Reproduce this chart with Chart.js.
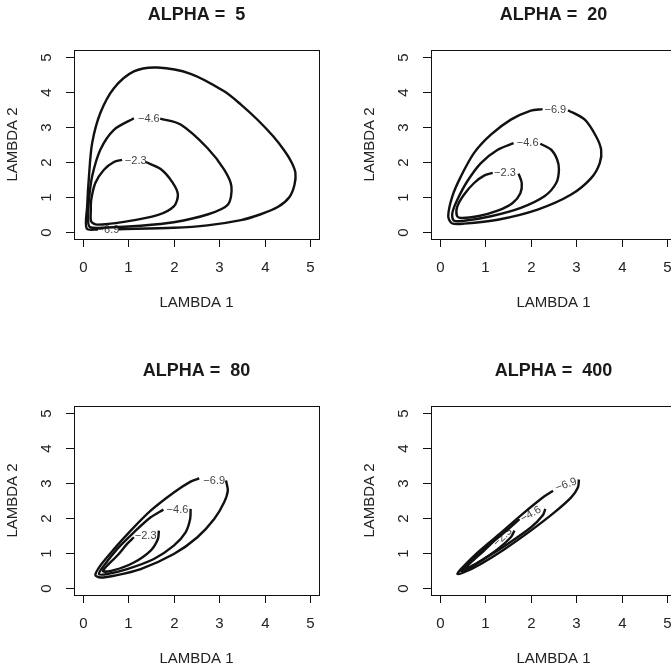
<!DOCTYPE html>
<html>
<head>
<meta charset="utf-8">
<script src="https://cdn.jsdelivr.net/npm/chart.js@4.4.0/dist/chart.umd.min.js"></script>
<style>
  html, body { margin: 0; padding: 0; background: #fff; overflow: hidden; }
  #page { position: relative; width: 671px; height: 670px; overflow: hidden; }
  .panel { position: absolute; }
</style>
</head>
<body>
<div id="page">
  <div class="panel" style="left:0;top:0"><canvas id="p1" width="336" height="335"></canvas></div>
  <div class="panel" style="left:335px;top:0"><canvas id="p2" width="345" height="335"></canvas></div>
  <div class="panel" style="left:0;top:335px"><canvas id="p3" width="336" height="335"></canvas></div>
  <div class="panel" style="left:335px;top:335px"><canvas id="p4" width="345" height="335"></canvas></div>
</div>
<script>
// contour levels (log-likelihood) and tick labels
const levels = ['\u22122.3', '\u22124.6', '\u22126.9']
const alphas = [5, 20, 80, 400]
const xTicks = [0, 1, 2, 3, 4, 5]
const yTicks = [0, 1, 2, 3, 4, 5]

// ALPHA = 5
const a5Level23 = [[1.38,2.0],[1.71,1.8],[1.97,1.42],[2.09,1.07],[2.0,0.73],[1.64,0.48],[0.9,0.29],[0.31,0.21],[0.18,0.3],[0.17,0.6],[0.18,0.92],[0.27,1.4],[0.46,1.78],[0.68,2.0],[0.86,2.06]]
const a5Level46 = [[1.70,3.24],[2.15,3.07],[2.74,2.4],[3.11,1.78],[3.27,1.3],[3.19,0.78],[2.74,0.5],[2.0,0.28],[1.27,0.18],[0.53,0.13],[0.15,0.14],[0.11,0.4],[0.13,0.92],[0.2,1.59],[0.38,2.35],[0.68,2.92],[1.12,3.25]]
const a5Level69 = [[0.78,0.08],[2.0,0.12],[2.74,0.19],[3.48,0.34],[3.9,0.5],[4.3,0.72],[4.55,1.0],[4.66,1.35],[4.68,1.69],[4.6,1.98],[4.45,2.3],[4.2,2.72],[3.85,3.2],[3.48,3.64],[3.11,4.02],[2.37,4.52],[1.64,4.70],[1.12,4.59],[0.68,4.11],[0.38,3.4],[0.2,2.54],[0.13,1.59],[0.09,0.73],[0.08,0.1],[0.33,0.07]]
const a5LabelPos = [[1.16,2.02],[1.45,3.24],[0.56,0.05]]

// ALPHA = 20
const a20Level23 = [[1.73,1.67],[1.8,1.4],[1.77,1.11],[1.6,0.83],[1.27,0.61],[0.83,0.45],[0.46,0.4],[0.37,0.47],[0.38,0.73],[0.53,1.07],[0.75,1.4],[0.97,1.61],[1.16,1.69]]
const a20Level46 = [[2.21,2.52],[2.45,2.35],[2.58,2.07],[2.62,1.78],[2.56,1.4],[2.3,1.02],[1.78,0.69],[1.12,0.45],[0.53,0.32],[0.3,0.33],[0.27,0.54],[0.38,0.92],[0.6,1.45],[0.9,1.97],[1.27,2.35],[1.62,2.54]]
const a20Level69 = [[2.82,3.48],[3.19,3.21],[3.44,2.73],[3.55,2.35],[3.52,1.97],[3.33,1.54],[2.89,1.07],[2.15,0.64],[1.27,0.35],[0.53,0.24],[0.26,0.25],[0.18,0.45],[0.27,1.02],[0.46,1.59],[0.75,2.26],[1.12,2.78],[1.56,3.21],[2.0,3.47],[2.26,3.51]]
const a20LabelPos = [[1.43,1.69],[1.93,2.54],[2.54,3.50]]

// ALPHA = 80
const a80Level23 = [[1.67,1.64],[1.65,1.4],[1.49,1.07],[1.12,0.73],[0.68,0.51],[0.44,0.48],[0.53,0.64],[0.75,0.92],[0.97,1.26],[1.12,1.45]]
const a80Level46 = [[2.37,2.26],[2.36,1.97],[2.26,1.59],[2.0,1.21],[1.56,0.83],[0.97,0.54],[0.53,0.4],[0.35,0.4],[0.46,0.64],[0.75,1.11],[1.12,1.59],[1.49,2.02],[1.77,2.24]]
const a80Level69 = [[3.15,3.07],[3.19,2.78],[3.11,2.45],[2.89,1.97],[2.52,1.45],[2.0,0.97],[1.27,0.54],[0.68,0.35],[0.38,0.3],[0.27,0.37],[0.38,0.64],[0.68,1.11],[1.05,1.64],[1.49,2.21],[2.0,2.73],[2.37,3.04],[2.56,3.13]]
const a80LabelPos = [[1.38,1.5],[2.08,2.23],[2.89,3.07]]

// ALPHA = 400
const a400Level23 = [[1.64,1.64],[1.56,1.45],[1.27,1.11],[0.9,0.78],[0.6,0.56],[0.53,0.52],[0.68,0.73],[0.97,1.07],[1.19,1.35]]
const a400Level46 = [[2.32,2.26],[2.26,2.07],[2.0,1.73],[1.49,1.26],[0.97,0.83],[0.6,0.54],[0.47,0.48],[0.6,0.69],[0.97,1.11],[1.42,1.59],[1.75,1.97]]
const a400Level69 = [[3.06,3.1],[3.04,2.88],[2.89,2.59],[2.52,2.16],[2.0,1.64],[1.42,1.11],[0.9,0.69],[0.53,0.45],[0.38,0.4],[0.46,0.54],[0.75,0.92],[1.27,1.5],[1.86,2.16],[2.3,2.62],[2.49,2.78]]
const a400LabelPos = [[1.38,1.45],[2.0,2.11],[2.78,2.95]]
const a400LabelRot = [-45, -30, -20]

const FONT = '"Liberation Sans", Arial, Helvetica, sans-serif'

// draws the R style frame, ticks, titles and contour labels
const rBase = {
    id: 'rBase',
    beforeDatasetsDraw(chart, args, opts) {
        const ctx = chart.ctx
        const xs = chart.scales.x, ys = chart.scales.y
        ctx.save()
        ctx.fillStyle = '#444'
        ctx.font = '11px ' + FONT
        ctx.textAlign = 'center'
        ctx.textBaseline = 'middle'
        opts.labelPos.forEach((p, i) => {
            ctx.save()
            ctx.translate(xs.getPixelForValue(p[0]), ys.getPixelForValue(p[1]))
            ctx.rotate((opts.labelRot ? opts.labelRot[i] : 0) * Math.PI / 180)
            ctx.fillText(levels[i], 0, 0)
            ctx.restore()
        })
        ctx.restore()
    },
    afterDraw(chart, args, opts) {
        const ctx = chart.ctx
        const a = chart.chartArea
        const xs = chart.scales.x, ys = chart.scales.y
        ctx.save()
        ctx.strokeStyle = '#111'
        ctx.lineWidth = 1
        ctx.strokeRect(Math.round(a.left) + 0.5, Math.round(a.top) + 0.5, Math.round(a.right - a.left), Math.round(a.bottom - a.top))

        ctx.fillStyle = '#222'
        ctx.font = '15px ' + FONT
        ctx.textAlign = 'center'
        ctx.textBaseline = 'middle'
        ctx.beginPath()
        xTicks.forEach(t => {
            const px = Math.round(xs.getPixelForValue(t)) + 0.5
            ctx.moveTo(px, a.bottom)
            ctx.lineTo(px, a.bottom + 8)
            ctx.fillText(String(t), px, a.bottom + 29)
        })
        yTicks.forEach(t => {
            const py = Math.round(ys.getPixelForValue(t)) + 0.5
            ctx.moveTo(a.left, py)
            ctx.lineTo(a.left - 8, py)
            ctx.save()
            ctx.translate(a.left - 27, py)
            ctx.rotate(-Math.PI / 2)
            ctx.fillText(String(t), 0, 0)
            ctx.restore()
        })
        ctx.stroke()

        const cx = (a.left + a.right) / 2
        ctx.fillText('LAMBDA 1', cx, a.bottom + 64)
        ctx.save()
        ctx.translate(a.left - 61, (a.top + a.bottom) / 2)
        ctx.rotate(-Math.PI / 2)
        ctx.fillText('LAMBDA 2', 0, 0)
        ctx.restore()

        ctx.font = 'bold 18px ' + FONT
        ctx.fillStyle = '#1a1a1a'
        ctx.fillText(opts.title, cx, a.top - 35)
        ctx.restore()
    }
}

function contour(points) {
    return {
        data: points.map(p => ({x: p[0], y: p[1]})),
        showLine: true,
        borderColor: '#111',
        borderWidth: 2.4,
        pointRadius: 0,
        tension: 0.3,
        fill: false
    }
}

function makePanel(id, alpha, sets, labelPos, labelRot, padding) {
    new Chart(document.getElementById(id), {
        type: 'scatter',
        data: { datasets: sets.map(contour) },
        options: {
            responsive: false,
            animation: false,
            layout: { padding },
            scales: {
                x: { type: 'linear', min: -0.2, max: 5.2, display: false },
                y: { type: 'linear', min: -0.2, max: 5.2, display: false }
            },
            plugins: {
                legend: { display: false },
                tooltip: { enabled: false },
                rBase: { title: 'ALPHA =  ' + alpha, labelPos, labelRot }
            }
        },
        plugins: [rBase]
    })
}

makePanel('p1', alphas[0], [a5Level23, a5Level46, a5Level69], a5LabelPos, null, {left: 74, right: 17, top: 50, bottom: 96})
makePanel('p2', alphas[1], [a20Level23, a20Level46, a20Level69], a20LabelPos, null, {left: 96, right: 4, top: 50, bottom: 96})
makePanel('p3', alphas[2], [a80Level23, a80Level46, a80Level69], a80LabelPos, null, {left: 74, right: 17, top: 71, bottom: 75})
makePanel('p4', alphas[3], [a400Level23, a400Level46, a400Level69], a400LabelPos, a400LabelRot, {left: 96, right: 4, top: 71, bottom: 75})
</script>
</body>
</html>
